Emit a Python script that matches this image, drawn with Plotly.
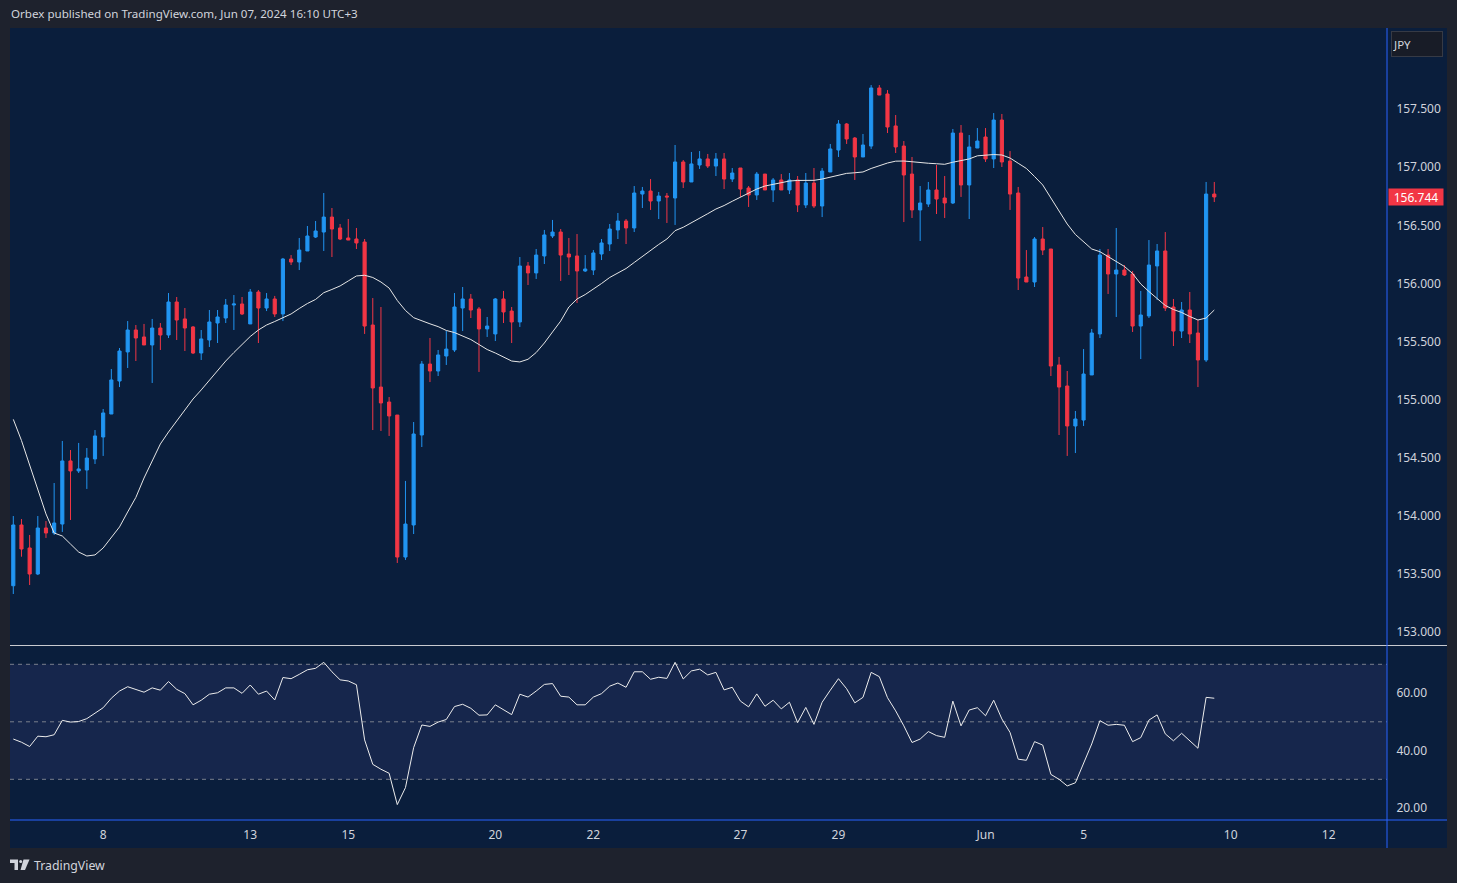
import plotly.graph_objects as go

# ---------------- data ----------------
bar_index = list(range(148))

open_ = [153.398,153.921,153.723,153.499,153.895,153.852,153.929,154.472,154.386,154.394,
         154.489,154.678,154.876,155.160,155.410,155.599,155.539,155.470,155.616,155.556,
         155.840,155.694,155.625,155.401,155.513,155.659,155.702,155.814,155.823,155.651,
         155.926,155.788,155.866,155.737,156.210,156.184,156.279,156.399,156.442,156.571,
         156.477,156.391,156.382,156.356,155.642,155.108,154.979,154.867,153.645,153.921,
         154.695,155.306,155.246,155.375,155.427,155.788,155.866,155.780,155.608,155.565,
         155.866,155.762,155.668,156.150,156.090,156.236,156.408,156.442,156.253,156.236,
         156.107,156.115,156.253,156.339,156.460,156.537,156.477,156.769,156.795,156.709,
         156.752,156.735,157.045,156.873,157.019,157.071,157.010,157.071,156.898,156.993,
         156.821,156.761,156.941,156.804,156.890,156.804,156.890,156.675,156.864,156.666,
         156.959,157.148,157.372,157.251,157.088,157.182,157.682,157.630,157.355,157.182,
         156.941,156.632,156.683,156.804,156.735,156.692,157.294,156.847,157.165,157.260,
         157.071,157.406,157.053,156.778,156.055,156.012,156.382,156.296,155.298,155.117,
         154.773,154.824,155.212,155.565,156.244,156.081,156.115,156.081,155.633,155.720,
         156.150,156.279,155.797,155.590,155.771,155.573,155.341,156.769]
high = [153.998,153.972,153.835,153.998,153.955,154.282,154.644,154.566,154.627,154.583,
        154.738,154.919,155.263,155.444,155.676,155.642,155.651,155.694,155.659,155.917,
        155.883,155.788,155.633,155.599,155.771,155.771,155.866,155.900,155.883,155.952,
        155.943,155.917,155.892,156.219,156.244,156.391,156.494,156.537,156.778,156.649,
        156.511,156.554,156.477,156.382,155.874,155.797,155.022,154.867,154.300,154.807,
        155.332,155.530,155.427,155.590,155.917,155.969,155.909,155.797,155.711,155.874,
        155.935,155.797,156.227,156.184,156.296,156.460,156.546,156.468,156.391,156.425,
        156.244,156.287,156.382,156.511,156.606,156.554,156.838,156.830,156.898,156.787,
        156.778,157.191,157.062,157.131,157.139,157.114,157.122,157.122,156.993,156.993,
        156.838,156.959,156.941,156.907,156.941,156.950,156.924,156.950,156.993,156.993,
        157.200,157.406,157.380,157.260,157.286,157.707,157.707,157.664,157.449,157.225,
        157.088,156.838,156.873,157.019,156.924,157.329,157.363,157.277,157.337,157.337,
        157.466,157.458,157.139,156.830,156.287,156.399,156.485,156.296,155.367,155.246,
        154.902,155.435,155.608,156.296,156.296,156.477,156.158,156.107,155.935,156.373,
        156.339,156.442,155.866,155.840,155.926,155.685,156.873,156.873]
low = [153.327,153.648,153.404,153.490,153.809,153.835,153.861,153.964,154.368,154.231,
       154.446,154.515,154.876,155.108,155.272,155.332,155.470,155.143,155.427,155.530,
       155.513,155.418,155.392,155.341,155.453,155.487,155.659,155.599,155.728,155.651,
       155.487,155.762,155.711,155.676,156.158,156.115,156.279,156.391,156.279,156.227,
       156.373,156.373,156.296,155.565,154.738,154.730,154.687,153.594,153.620,153.843,
       154.592,155.151,155.203,155.298,155.410,155.590,155.702,155.238,155.539,155.504,
       155.659,155.487,155.625,155.986,156.038,156.167,156.391,156.021,156.072,155.831,
       156.098,156.072,156.201,156.279,156.382,156.339,156.442,156.649,156.632,156.554,
       156.520,156.503,156.821,156.873,156.985,156.993,156.924,156.812,156.873,156.744,
       156.658,156.718,156.804,156.700,156.804,156.769,156.614,156.649,156.649,156.571,
       156.959,157.088,157.200,156.890,157.088,157.157,157.621,157.294,157.122,156.528,
       156.563,156.365,156.658,156.597,156.563,156.683,156.744,156.554,157.165,157.045,
       156.993,157.002,156.632,155.943,156.012,155.969,156.244,155.203,154.695,154.515,
       154.540,154.773,155.212,155.530,155.909,155.711,156.064,155.582,155.349,155.702,
       155.857,155.762,155.461,155.530,155.487,155.108,155.324,156.700]
close = [153.921,153.714,153.499,153.895,153.852,153.938,154.472,154.386,154.403,154.497,
         154.687,154.885,155.169,155.418,155.599,155.530,155.470,155.616,155.556,155.840,
         155.685,155.616,155.401,155.522,155.668,155.711,155.814,155.823,155.737,155.926,
         155.788,155.866,155.737,156.210,156.184,156.287,156.408,156.451,156.571,156.468,
         156.382,156.373,156.348,155.633,155.100,154.971,154.859,153.645,153.929,154.704,
         155.306,155.246,155.384,155.435,155.797,155.866,155.771,155.608,155.633,155.866,
         155.754,155.668,156.150,156.090,156.244,156.417,156.442,156.244,156.227,156.107,
         156.124,156.262,156.348,156.468,156.537,156.477,156.778,156.795,156.709,156.752,
         156.744,157.045,156.873,157.028,157.071,157.010,157.071,156.898,156.950,156.812,
         156.761,156.941,156.804,156.890,156.804,156.890,156.675,156.864,156.666,156.967,
         157.157,157.372,157.243,157.088,157.191,157.682,157.621,157.346,157.174,156.933,
         156.632,156.692,156.804,156.726,156.692,157.294,156.847,157.174,157.225,157.071,
         157.406,157.045,156.769,156.046,156.012,156.382,156.287,155.289,155.108,154.773,
         154.833,155.220,155.573,156.244,156.081,156.115,156.072,155.633,155.728,156.158,
         156.279,155.788,155.590,155.771,155.565,155.341,156.769,156.744]

ma = [154.830,154.648,154.437,154.226,154.016,153.852,153.826,153.757,153.688,153.654,
      153.663,153.723,153.809,153.904,154.033,154.158,154.325,154.472,154.618,154.721,
      154.816,154.910,155.005,155.083,155.169,155.246,155.332,155.405,155.474,155.543,
      155.599,155.642,155.672,155.702,155.737,155.784,155.827,155.862,155.920,155.948,
      155.978,156.021,156.064,156.070,156.051,156.012,155.960,155.853,155.767,155.705,
      155.676,155.652,155.628,155.595,155.577,155.547,155.517,155.474,155.431,155.401,
      155.367,155.332,155.324,155.347,155.405,155.487,155.582,155.676,155.797,155.866,
      155.904,155.948,155.999,156.051,156.090,156.128,156.180,156.234,156.283,156.335,
      156.382,156.454,156.483,156.520,156.559,156.600,156.640,156.670,156.707,156.741,
      156.778,156.812,156.838,156.853,156.867,156.881,156.886,156.887,156.887,156.898,
      156.916,156.929,156.947,156.952,156.959,156.989,157.014,157.036,157.052,157.053,
      157.047,157.038,157.034,157.030,157.025,157.043,157.055,157.071,157.098,157.105,
      157.109,157.105,157.079,157.034,156.989,156.920,156.847,156.735,156.627,156.511,
      156.421,156.356,156.296,156.273,156.231,156.188,156.146,156.085,155.995,155.930,
      155.870,155.810,155.775,155.750,155.715,155.685,155.702,155.771]

rsi = [44.0,42.9,41.4,45.0,44.8,45.5,50.5,49.9,50.1,51.1,53.0,54.9,58.2,60.7,62.2,61.3,60.3,61.8,61.0,64.0,
       61.3,59.8,55.9,57.5,59.6,60.1,61.8,61.8,59.9,62.8,59.6,60.7,57.6,65.4,65.0,66.5,68.1,68.6,70.7,67.4,
       64.6,64.2,62.9,43.7,35.2,33.5,32.1,21.2,27.1,41.0,48.9,48.4,49.9,50.8,55.3,56.1,54.7,52.3,52.4,55.9,
       54.1,52.5,59.6,58.6,60.7,63.0,63.3,58.9,58.6,55.9,55.9,58.6,59.8,62.4,63.5,62.0,67.4,67.4,64.8,65.5,
       65.1,70.7,64.9,67.7,68.3,66.3,67.2,61.1,62.0,57.2,55.2,59.7,55.4,57.5,54.5,56.8,49.7,55.0,49.1,56.8,
       61.0,65.0,61.5,56.6,58.5,67.2,65.7,58.4,53.8,48.6,42.8,44.0,46.6,45.2,44.6,57.2,48.6,54.1,54.9,52.1,
       57.5,51.0,46.3,37.0,36.6,43.1,41.9,31.7,30.0,27.7,28.8,35.7,42.3,50.4,48.8,49.1,48.8,43.1,44.5,50.6,
       52.4,45.8,43.4,46.0,43.4,40.8,58.5,58.2]

time_tick_pos = [11, 29, 41, 59, 71, 89, 101, 119, 131, 149, 161]
time_tick_text = ["8", "13", "15", "20", "22", "27", "29", "Jun", "5", "10", "12"]
price_ticks = [153.0, 153.5, 154.0, 154.5, 155.0, 155.5, 156.0, 156.5, 157.0, 157.5]
rsi_ticks = [20, 40, 60]
rsi_tick_text = ["20.00", "40.00", "60.00"]
rsi_levels = [70, 50, 30]
last_price = 156.744
currency = "JPY"
header_text = "Orbex published on TradingView.com, Jun 07, 2024 16:10 UTC+3"

# ---------------- styling / layout helpers ----------------
W, H = 1457, 883
ML, MR, MT, MB = 10, 70, 28, 63
PW, PH = W - ML - MR, H - MT - MB

def px(xp):
    return (xp - ML) / PW

def py(yp):
    return (H - MB - yp) / PH

NAVY = "#0a1e3c"
PAGE = "#1e222d"
TXT = "#d1d4dc"
UP = "#2195f2"
DOWN = "#f23645"
FONT = "Noto Sans"

fig = go.Figure()

fig.add_trace(go.Candlestick(
    x=bar_index, open=open_, high=high, low=low, close=close,
    increasing=dict(line=dict(color=UP, width=1), fillcolor=UP),
    decreasing=dict(line=dict(color=DOWN, width=1), fillcolor=DOWN),
    whiskerwidth=0, xaxis="x", yaxis="y", hoverinfo="skip", showlegend=False))

fig.add_trace(go.Scatter(x=bar_index, y=ma, mode="lines",
                         line=dict(color="#e6e6e6", width=1),
                         xaxis="x", yaxis="y", hoverinfo="skip", showlegend=False))

fig.add_trace(go.Scatter(x=bar_index, y=rsi, mode="lines",
                         line=dict(color="#ececec", width=1),
                         xaxis="x2", yaxis="y2", hoverinfo="skip", showlegend=False))

xr = [-0.404, 168.14]
main_dom = [py(645), 1.0]
rsi_dom = [0.0, py(646)]

shapes = [
    dict(type="rect", xref="paper", yref="paper", x0=0, x1=px(1447), y0=py(848), y1=1,
         fillcolor=NAVY, line=dict(width=0), layer="below"),
    dict(type="rect", xref="paper", yref="y2", x0=0, x1=1, y0=rsi_levels[2], y1=rsi_levels[0],
         fillcolor="#16264c", line=dict(width=0), layer="below"),
]
for lv in rsi_levels:
    shapes.append(dict(type="line", xref="paper", yref="y2", x0=0, x1=1, y0=lv, y1=lv,
                       line=dict(color="#7a7f8c", width=1, dash="4px,4px"), layer="below"))
shapes += [
    dict(type="line", xref="paper", yref="paper", x0=0, x1=px(1447), y0=py(645.5), y1=py(645.5),
         line=dict(color="#c8cad0", width=1)),
    dict(type="line", xref="paper", yref="paper", x0=0, x1=px(1447), y0=0, y1=0,
         line=dict(color="#2962ff", width=1)),
    dict(type="line", xref="paper", yref="paper", x0=1, x1=1, y0=py(848), y1=1,
         line=dict(color="#2962ff", width=1)),
    # TradingView logo (approximate)
    dict(type="path", xref="paper", yref="paper",
         path=f"M {px(10)},{py(859.5)} L {px(18)},{py(859.5)} L {px(18)},{py(870)} "
              f"L {px(14.5)},{py(870)} L {px(14.5)},{py(863)} L {px(10)},{py(863)} Z",
         fillcolor=TXT, line=dict(width=0)),
    dict(type="circle", xref="paper", yref="paper", x0=px(19.2), x1=px(22.2),
         y0=py(863), y1=py(860), fillcolor=TXT, line=dict(width=0)),
    dict(type="path", xref="paper", yref="paper",
         path=f"M {px(23.5)},{py(859.5)} L {px(29.5)},{py(859.5)} L {px(25)},{py(870)} "
              f"L {px(20.5)},{py(870)} Z",
         fillcolor=TXT, line=dict(width=0)),
]

annotations = [
    dict(text=header_text, xref="paper", yref="paper", x=px(9), y=py(14),
         xanchor="left", yanchor="middle", showarrow=False,
         font=dict(family=FONT, size=11.6, color=TXT)),
    dict(text="TradingView", xref="paper", yref="paper", x=px(32), y=py(865),
         xanchor="left", yanchor="middle", showarrow=False,
         font=dict(family=FONT, size=12.3, color=TXT)),
    dict(text=currency, xref="paper", yref="paper", x=px(1391), y=py(44),
         xanchor="left", yanchor="middle", showarrow=False, align="left",
         width=48, height=22, bgcolor="#181c27", bordercolor="#363a45", borderwidth=1,
         borderpad=1, font=dict(family=FONT, size=11.5, color=TXT)),
    dict(text=f"{last_price:.3f}", xref="paper", yref="y", x=1.0, y=last_price,
         xanchor="left", yanchor="middle", showarrow=False, xshift=1,
         width=54, height=16, bgcolor=DOWN, borderpad=0,
         font=dict(family=FONT, size=12, color="#ffffff")),
]

axis_font = dict(family=FONT, size=12, color=TXT)

fig.update_layout(
    width=W, height=H,
    margin=dict(l=ML, r=MR, t=MT, b=MB),
    paper_bgcolor=PAGE, plot_bgcolor=NAVY,
    boxgap=0.45,
    showlegend=False,
    xaxis=dict(domain=[0, 1], anchor="y", range=xr, matches="x2",
               showticklabels=False, showgrid=False, zeroline=False, showline=False,
               rangeslider=dict(visible=False), fixedrange=True),
    yaxis=dict(domain=main_dom, anchor="x", range=[152.888, 158.198], side="right",
               tickvals=price_ticks, tickformat=".3f", ticks="outside", ticklen=6,
               tickcolor="rgba(0,0,0,0)", tickfont=axis_font, showgrid=False,
               zeroline=False, showline=False),
    xaxis2=dict(domain=[0, 1], anchor="y2", range=xr, tickvals=time_tick_pos,
                ticktext=time_tick_text, ticks="outside", ticklen=4,
                tickcolor="rgba(0,0,0,0)", tickfont=axis_font, showgrid=False,
                zeroline=False, showline=False, rangeslider=dict(visible=False)),
    yaxis2=dict(domain=rsi_dom, anchor="x2", range=[15.84, 76.37], side="right",
                tickvals=rsi_ticks, ticktext=rsi_tick_text, ticks="outside", ticklen=6,
                tickcolor="rgba(0,0,0,0)", tickfont=axis_font, showgrid=False,
                zeroline=False, showline=False),
    shapes=shapes,
    annotations=annotations,
)

fig.write_html(
    "out.html",
    config={"displayModeBar": False, "staticPlot": True},
    post_script="document.body.style.margin='0';document.body.style.padding='0';"
                "document.body.style.overflow='hidden';"
                "document.body.style.background='#1e222d';",
)
